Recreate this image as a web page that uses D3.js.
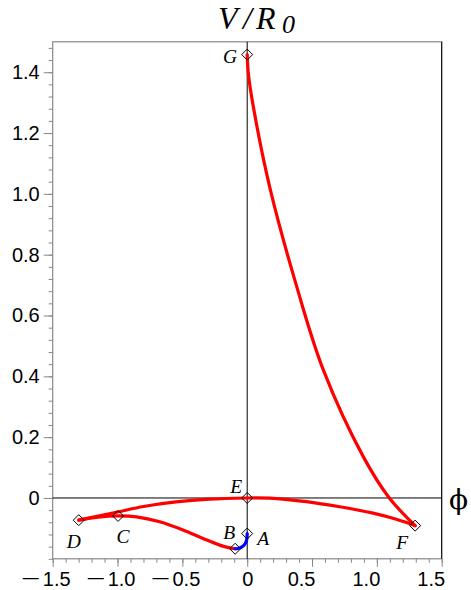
<!DOCTYPE html>
<html>
<head>
<meta charset="utf-8">
<script src="https://cdn.jsdelivr.net/npm/d3@7"></script>
<style>
  body { margin: 0; background: #fff; }
  .tick-label { font-family: 'Liberation Sans', Arial, sans-serif; font-size: 20px; fill: #000; }
  .pt-label { font-family: 'Liberation Serif', 'Times New Roman', serif; font-style: italic; font-size: 19.5px; }
</style>
</head>
<body>
<div class="chart"></div>
<script>
// axis ticks
const xMajorTicks = [-1.5, -1.0, -0.5, 0, 0.5, 1.0, 1.5]
const xTickLabels = ['\u22121.5', '\u22121.0', '\u22120.5', '0', '0.5', '1.0', '1.5']
const yMajorTicks = [0, 0.2, 0.4, 0.6, 0.8, 1.0, 1.2, 1.4]
const yTickLabels = ['0', '0.2', '0.4', '0.6', '0.8', '1.0', '1.2', '1.4']

// marked points
const pointNames = ['A', 'B', 'C', 'D', 'E', 'F', 'G']
const pointPhi = [0, -0.093, -0.996, -1.299, 0, 1.295, 0]
const pointV = [-0.117, -0.167, -0.059, -0.073, 0, -0.091, 1.458]

// blue piece A -> B
const blueAB_phi = [0, -0.004, -0.018, -0.040, -0.071, -0.093]
const blueAB_V = [-0.117, -0.138, -0.152, -0.161, -0.166, -0.167]
// red piece B -> C -> D
const redBD_phi = [-0.093, -0.135, -0.212, -0.341, -0.495, -0.675, -0.854, -0.996, -1.150, -1.299]
const redBD_V = [-0.167, -0.164, -0.155, -0.133, -0.105, -0.078, -0.062, -0.059, -0.063, -0.073]
// red piece D -> E
const redDE_phi = [-1.299, -1.0, -0.80, -0.55, -0.29, 0]
const redDE_V = [-0.073, -0.046, -0.028, -0.013, -0.004, 0]
// red piece E -> F
const redEF_phi = [0, 0.199, 0.456, 0.713, 0.970, 1.150, 1.295]
const redEF_V = [0, -0.001, -0.012, -0.029, -0.050, -0.070, -0.091]
// red piece F -> G
const redFG_phi = [1.295, 1.096, 0.895, 0.587, 0.382, 0.176, 0.047, 0.0085, 0]
const redFG_V = [-0.091, 0, 0.136, 0.421, 0.695, 1.018, 1.287, 1.397, 1.458]

// label offsets (px) relative to each point
const labelOffsets = {
  A: {dx: 10, dy: 11, anchor: 'start'},
  B: {dx: 0, dy: -10, anchor: 'end'},
  C: {dx: 5, dy: 27, anchor: 'middle'},
  D: {dx: -5, dy: 28, anchor: 'middle'},
  E: {dx: -5, dy: -5, anchor: 'end'},
  F: {dx: -13, dy: 23, anchor: 'middle'},
  G: {dx: -10, dy: 8, anchor: 'end'}
}

const width = 471
const height = 590

const x = d3.scaleLinear().domain([-1.5, 1.5]).range([52.7, 441.7])
const y = d3.scaleLinear().domain([-0.2, 1.5]).range([558.8, 41.8])

const svg = d3.select('.chart')
  .append('svg')
  .attr('width', width)
  .attr('height', height)

const zip = (a, b) => a.map((d, i) => [d, b[i]])

// frame
svg.append('rect')
  .attr('x', x(-1.5)).attr('y', y(1.5))
  .attr('width', x(1.5) - x(-1.5)).attr('height', y(-0.2) - y(1.5))
  .style('fill', 'none').style('stroke', '#888').style('stroke-width', 1.2)
svg.append('line')
  .attr('x1', x(1.5)).attr('x2', x(1.5)).attr('y1', y(1.5)).attr('y2', y(-0.2))
  .style('stroke', '#000').style('stroke-width', 1)

// x axis at bottom
const xMinor = d3.range(-15, 16).map(d => d / 10)
svg.append('g')
  .attr('transform', 'translate(0,' + y(-0.2) + ')')
  .call(d3.axisBottom(x).tickValues(xMinor).tickSize(4).tickFormat(''))
  .call(g => g.select('.domain').remove())
  .call(g => g.selectAll('line').style('stroke', '#888'))
const xAxis = svg.append('g')
  .attr('transform', 'translate(0,' + y(-0.2) + ')')
  .call(d3.axisBottom(x).tickValues(xMajorTicks).tickSize(8).tickFormat(''))
  .call(g => g.select('.domain').remove())
  .call(g => g.selectAll('line').style('stroke', '#888'))
xAxis.selectAll('.tick').each(function(d, i) {
  const label = xTickLabels[i]
  const t = d3.select(this).select('text')
    .attr('class', 'tick-label')
    .attr('font-size', null).attr('font-family', null)
    .attr('y', 27).attr('dy', null)
    .attr('text-anchor', 'middle')
    .attr('x', d < 0 ? -6.5 : d > 0 ? -11 : 0)
  if (label.startsWith('\u2212')) {
    // long minus, as in the original
    t.append('tspan').attr('dy', -2.6).style('font-size', '16px').text('\u2014')
    t.append('tspan').attr('dx', 4).attr('dy', 2.6).text(label.slice(1))
  } else {
    t.text(label)
  }
})

// y axis at left
const yMinor = d3.range(-5, 38).map(d => d * 0.04)
svg.append('g')
  .attr('transform', 'translate(' + x(-1.5) + ',0)')
  .call(d3.axisLeft(y).tickValues(yMinor).tickSize(4).tickFormat(''))
  .call(g => g.select('.domain').remove())
  .call(g => g.selectAll('line').style('stroke', '#888'))
svg.append('g')
  .attr('transform', 'translate(' + x(-1.5) + ',0)')
  .call(d3.axisLeft(y).tickValues(yMajorTicks).tickSize(9)
    .tickFormat((d, i) => yTickLabels[i]))
  .call(g => g.select('.domain').remove())
  .call(g => g.selectAll('line').style('stroke', '#888'))
  .call(g => g.selectAll('text').attr('class', 'tick-label').attr('font-size', null)
    .attr('font-family', null).attr('x', -13))

// crosshair axes
svg.append('line')
  .attr('x1', x(-1.5)).attr('x2', x(1.5)).attr('y1', y(0)).attr('y2', y(0))
  .style('stroke', '#000').style('stroke-width', 1)
svg.append('line')
  .attr('x1', x(0)).attr('x2', x(0)).attr('y1', y(1.5)).attr('y2', y(-0.2))
  .style('stroke', '#000').style('stroke-width', 1)

// curves
const line = d3.line()
  .curve(d3.curveCatmullRom.alpha(0.5))
  .x(d => x(d[0]))
  .y(d => y(d[1]))

const pieces = [
  {data: zip(redBD_phi, redBD_V), color: '#ff0000'},
  {data: zip(redDE_phi, redDE_V), color: '#ff0000'},
  {data: zip(redEF_phi, redEF_V), color: '#ff0000'},
  {data: zip(redFG_phi, redFG_V), color: '#ff0000'},
  {data: zip(blueAB_phi, blueAB_V), color: '#0000ff'}
]
svg.append('g').selectAll('path')
  .data(pieces)
  .enter()
  .append('path')
  .attr('d', d => line(d.data))
  .style('fill', 'none')
  .style('stroke', d => d.color)
  .style('stroke-width', 3.2)
  .style('stroke-linecap', 'round')
  .style('stroke-linejoin', 'round')

// diamonds
const pts = pointNames.map((n, i) => ({name: n, phi: pointPhi[i], v: pointV[i]}))
svg.append('g').selectAll('path')
  .data(pts)
  .enter()
  .append('path')
  .attr('d', 'M0,-5.5L5.5,0L0,5.5L-5.5,0Z')
  .attr('transform', d => 'translate(' + x(d.phi) + ',' + y(d.v) + ')')
  .style('fill', 'none')
  .style('stroke', '#000')
  .style('stroke-width', 1)

svg.append('g').selectAll('text')
  .data(pts)
  .enter()
  .append('text')
  .attr('class', 'pt-label')
  .attr('x', d => x(d.phi) + labelOffsets[d.name].dx)
  .attr('y', d => y(d.v) + labelOffsets[d.name].dy)
  .attr('text-anchor', d => labelOffsets[d.name].anchor)
  .text(d => d.name)

// title V/R0
const title = svg.append('text')
  .attr('y', 28.5)
  .style('font-family', "'Liberation Serif', 'Times New Roman', serif")
  .style('font-style', 'italic')
  .style('font-size', '32px')
title.append('tspan').attr('x', 218).text('V')
title.append('tspan').attr('x', 243).text('/')
title.append('tspan').attr('x', 256).text('R')
title.append('tspan').attr('x', 282).attr('dy', 4).style('font-size', '26px').text('0')

// phi label
svg.append('text')
  .attr('x', 449)
  .attr('y', 509)
  .style('font-family', "'DejaVu Serif', serif")
  .style('font-size', '28px')
  .text('\u03d5')
</script>
</body>
</html>
